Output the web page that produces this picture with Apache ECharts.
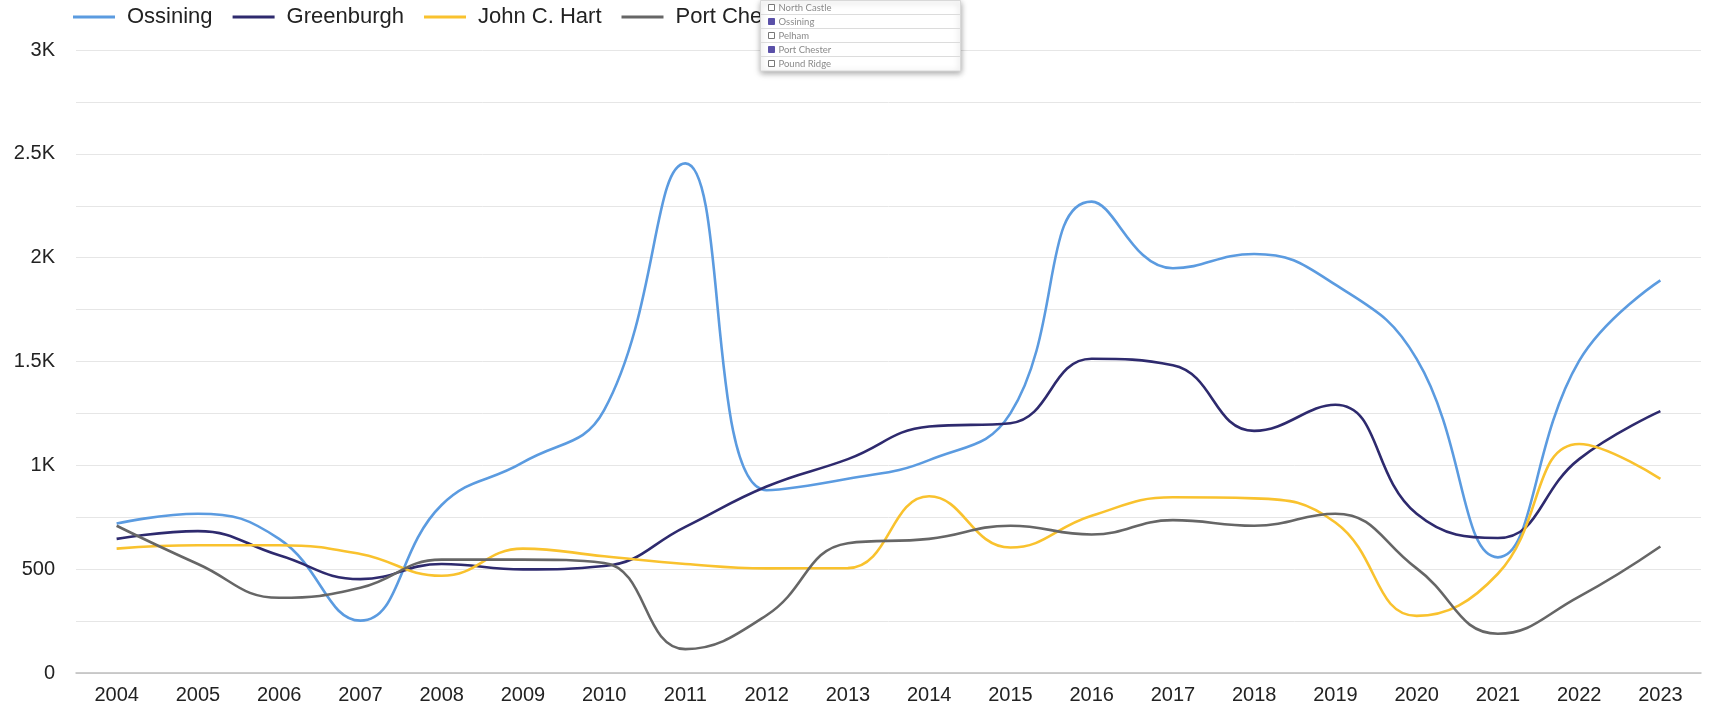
<!DOCTYPE html>
<html>
<head>
<meta charset="utf-8">
<script src="https://cdn.jsdelivr.net/npm/echarts@6/dist/echarts.min.js"></script>
<style>
  html, body { margin: 0; padding: 0; background: #fff; }
  #chart { width: 1710px; height: 714px; }
</style>
</head>
<body>
<div id="chart"></div>
<script>
// data
var years = ['2004', '2005', '2006', '2007', '2008', '2009', '2010', '2011', '2012', '2013',
             '2014', '2015', '2016', '2017', '2018', '2019', '2020', '2021', '2022', '2023'];
var ossining    = [720, 767, 646, 252, 809, 1014, 1266, 2454, 880, 935, 1025, 1250, 2270, 1949, 2018, 1870, 1513, 557, 1503, 1891];
var greenburgh  = [646, 683, 567, 452, 525, 499, 515, 704, 898, 1030, 1187, 1203, 1513, 1482, 1166, 1292, 767, 650, 1030, 1261];
var johnCHart   = [599, 615, 615, 573, 468, 599, 562, 525, 504, 505, 851, 604, 757, 846, 841, 725, 275, 478, 1103, 935];
var portChester = [709, 525, 362, 410, 546, 546, 530, 115, 278, 625, 646, 709, 667, 736, 709, 767, 504, 189, 368, 609];

var seriesNames = ['Ossining', 'Greenburgh', 'John C. Hart', 'Port Chester'];
var colors = ['#5B9BE0', '#2E2A6E', '#F9C22E', '#666666'];
var FONT = 'Liberation Sans, Arial, sans-serif';

// the open filter list sitting over the legend
var dropdownItems = ['North Castle', 'Ossining', 'Pelham', 'Port Chester', 'Pound Ridge'];
var dropdownChecked = [false, true, false, true, false];

function makeDropdown() {
    var rowH = 14;
    var top = -5;
    var Z = 200;
    var els = [];
    els.push({
        type: 'rect', z: Z,
        shape: { x: 0, y: top, width: 200, height: rowH * dropdownItems.length + 0.5 },
        style: { fill: '#fff', stroke: '#d8d8d8', lineWidth: 1, shadowBlur: 6, shadowOffsetY: 2, shadowColor: 'rgba(0,0,0,0.35)' }
    });
    dropdownItems.forEach(function (name, i) {
        var y = top + i * rowH;
        if (i > 0) {
            els.push({ type: 'line', z: Z + 1, shape: { x1: 0, y1: y, x2: 200, y2: y }, style: { stroke: '#dcdcdc', lineWidth: 1 } });
        }
        els.push({
            type: 'rect', z: Z + 1,
            shape: { x: 8, y: y + rowH / 2 - 3, width: 6, height: 6 },
            style: dropdownChecked[i] ? { fill: '#5a50a8', stroke: '#5a50a8', lineWidth: 1 } : { fill: '#fff', stroke: '#777', lineWidth: 1 }
        });
        els.push({
            type: 'text', z: Z + 1,
            x: 18, y: y + rowH / 2,
            style: { text: name, fill: '#8a8a8a', font: '9.5px Lato', verticalAlign: 'middle' }
        });
    });
    return { type: 'group', left: 758, top: 0, z: Z, children: els };
}

var myChart = echarts.init(document.getElementById('chart'));
var series = [ossining, greenburgh, johnCHart, portChester].map(function (vals, i) {
    return {
        name: seriesNames[i],
        type: 'line',
        data: vals,
        smooth: 0.45,
        symbol: 'none',
        lineStyle: { width: 2.6, color: colors[i] },
        itemStyle: { color: colors[i] }
    };
});

var option = {
    animation: false,
    color: colors,
    textStyle: { fontFamily: FONT },
    legend: {
        left: 68,
        top: 1,
        z: 2,
        icon: 'rect',
        itemWidth: 42,
        itemHeight: 3,
        itemGap: 20,
        textStyle: { fontSize: 22, color: '#222', fontFamily: FONT, padding: [0, 0, 0, 7] },
        data: seriesNames
    },
    grid: { left: 76, right: 9, top: 50, bottom: 41 },
    xAxis: {
        type: 'category',
        data: years,
        boundaryGap: true,
        axisLine: { lineStyle: { color: '#bdbdbd', width: 1.5 } },
        axisTick: { show: false },
        axisLabel: { fontSize: 20, color: '#222', fontFamily: FONT, margin: 12 }
    },
    yAxis: {
        type: 'value',
        min: 0,
        max: 3000,
        interval: 250,
        axisLine: { show: false },
        axisTick: { show: false },
        splitLine: { lineStyle: { color: '#e6e6e6', width: 1 } },
        axisLabel: {
            fontSize: 20,
            color: '#222',
            fontFamily: FONT,
            margin: 21,
            formatter: function (v) {
                if (v % 500 !== 0) return '';
                return v >= 1000 ? (v / 1000) + 'K' : String(v);
            }
        }
    },
    graphic: [makeDropdown()],
    series: series
};
myChart.setOption(option);
</script>
</body>
</html>
